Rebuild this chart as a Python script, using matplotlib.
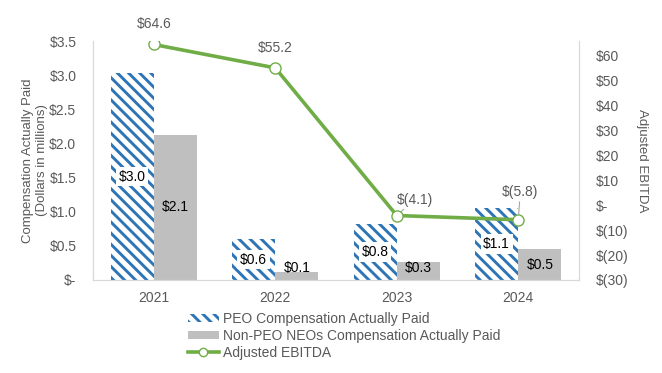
import matplotlib
matplotlib.use("Agg")
import matplotlib.pyplot as plt
import numpy as np
from matplotlib.lines import Line2D
from matplotlib.patches import Patch

plt.rcParams['font.family'] = ['Liberation Sans', 'DejaVu Sans']
plt.rcParams['hatch.linewidth'] = 2.1

years = ['2021', '2022', '2023', '2024']
peo_cap = [3.03, 0.60, 0.82, 1.06]
neo_cap = [2.13, 0.11, 0.26, 0.45]
ebitda = [64.6, 55.2, -4.1, -5.8]
ebitda_labels = ['$64.6', '$55.2', '$(4.1)', '$(5.8)']

blue = '#2E75B6'
gray = '#BFBFBF'
green = '#70AD47'
txt = '#595959'
spine = '#D9D9D9'

fig = plt.figure(figsize=(6.62, 3.73), dpi=100)
ax = fig.add_axes([93/662, 1-280/373, (579-93)/662, (280-41)/373])
ax2 = ax.twinx()

x = np.arange(len(years))
w = 0.355
b1 = ax.bar(x - w/2, peo_cap, w, facecolor='white', edgecolor=blue, hatch='\\\\\\', linewidth=0)
b2 = ax.bar(x + w/2, neo_cap, w, color=gray, linewidth=0)

for i in range(len(years)):
    y1 = max(peo_cap[i]/2, 0.175)
    ax.text(x[i] - w/2, y1, '\\$%.1f' % peo_cap[i], ha='center', va='center', fontsize=10,
            color='black', bbox=dict(facecolor='white', edgecolor='none', pad=2))
    y2 = max(neo_cap[i]/2, 0.175)
    ax.text(x[i] + w/2, y2, '\\$%.1f' % neo_cap[i], ha='center', va='center', fontsize=10,
            color='black')

ax.set_xlim(-0.5, 3.5)
ax.set_ylim(0, 3.5)
ax.set_yticks(np.arange(0, 3.51, 0.5))
ax.set_yticklabels(['\\$-' if v == 0 else '\\$%.1f' % v for v in np.arange(0, 3.51, 0.5)])
ax.set_xticks(x)
ax.set_xticklabels(years)

ax2.plot(x, ebitda, color=green, lw=2.6, marker='o', ms=8, mfc='white', mec=green, mew=1.0, zorder=5)
ax2.set_ylim(-30, 66)
rt = np.arange(-30, 61, 10)
ax2.set_yticks(rt)
ax2.set_yticklabels(['\\$-' if v == 0 else ('\\$(%d)' % -v if v < 0 else '\\$%d' % v) for v in rt])

offs = [(0, 14.5), (0, 14.5), (13, 11.5), (1.5, 20)]
for i in range(len(years)):
    lab = ebitda_labels[i].replace('$', '\\$')
    arrow = None
    if i >= 2:
        arrow = dict(arrowstyle='-', color='#A6A6A6', lw=0.8, shrinkA=0, shrinkB=4)
    ax2.annotate(lab, (x[i], ebitda[i]), xytext=offs[i], textcoords='offset points',
                 ha='center', va='center', fontsize=10, color=txt, arrowprops=arrow)

for a in (ax, ax2):
    a.tick_params(length=0, labelsize=10, labelcolor=txt)
    a.spines['top'].set_visible(False)
    for s in ('left', 'right', 'bottom'):
        a.spines[s].set_color(spine)
ax.tick_params(axis='x', pad=8)
ax.tick_params(axis='y', pad=12)
ax2.tick_params(axis='y', pad=12)

ax.set_ylabel('Compensation Actually Paid\n(Dollars in millions)', fontsize=9.5, color=txt, labelpad=1)
ax2.set_ylabel('Adjusted EBITDA', fontsize=9.5, color=txt, rotation=270, labelpad=14)

handles = [
    Patch(facecolor='white', edgecolor=blue, hatch='\\\\\\', linewidth=0),
    Patch(facecolor=gray, linewidth=0),
    Line2D([], [], color=green, lw=2.6, marker='o', ms=6, mfc='white', mec=green, mew=1.0),
]
labels = ['PEO Compensation Actually Paid', 'Non-PEO NEOs Compensation Actually Paid', 'Adjusted EBITDA']
leg = fig.legend(handles, labels, loc='upper left', bbox_to_anchor=(188/662, 1-312/373),
                 frameon=False, fontsize=10, labelspacing=0.2, handlelength=2.2, handleheight=0.5,
                 handletextpad=0.3, borderpad=0, borderaxespad=0)
for t in leg.get_texts():
    t.set_color(txt)

fig.savefig('out.png', dpi=100)
